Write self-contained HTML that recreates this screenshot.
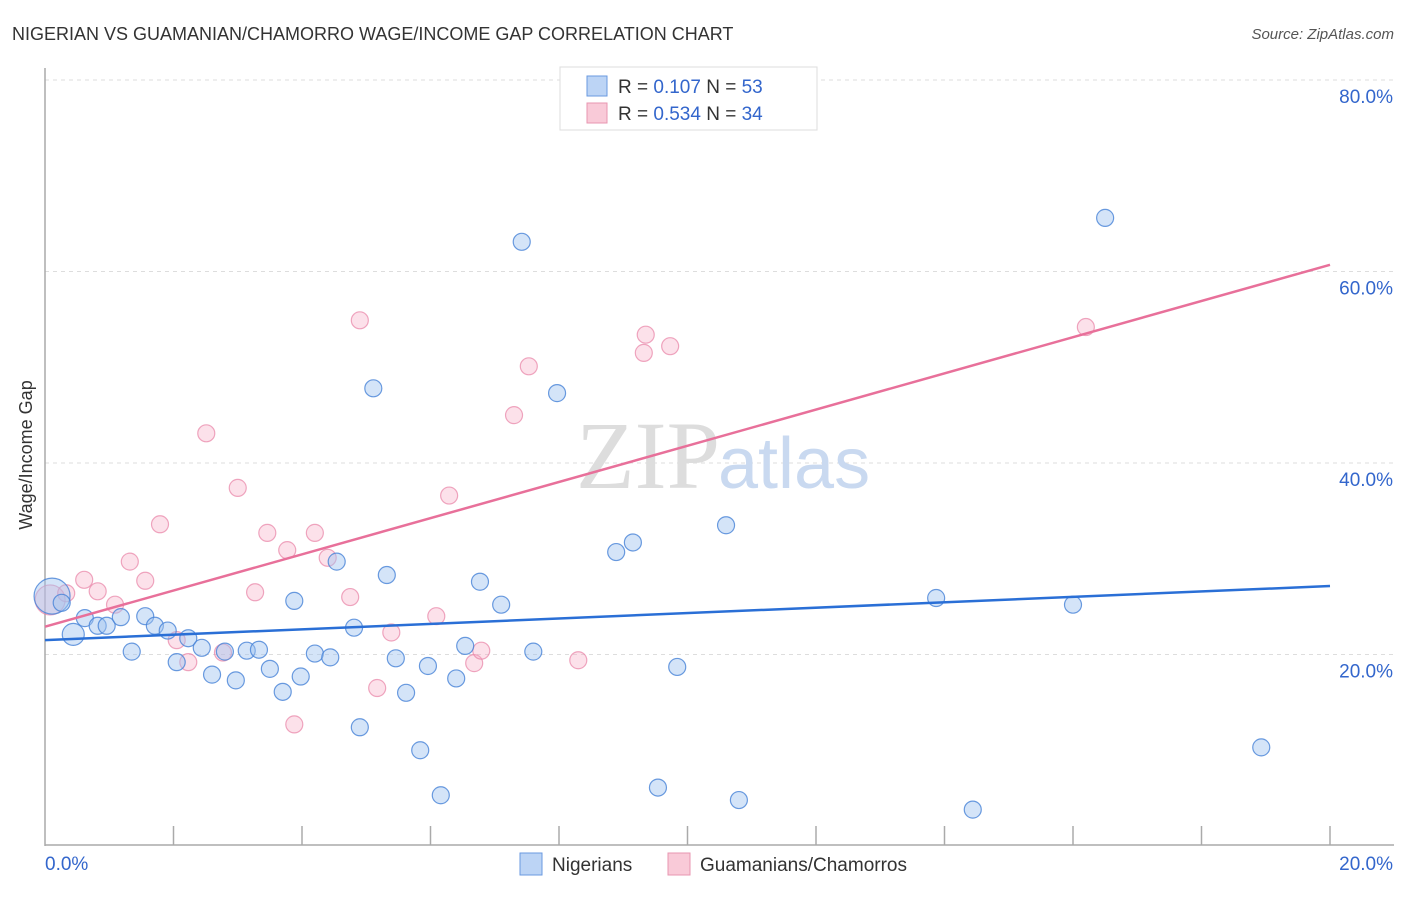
<!DOCTYPE html>
<html><head><meta charset="utf-8"><style>
body{margin:0;background:#fff;font-family:"Liberation Sans",sans-serif}
svg text{font-family:"Liberation Sans",sans-serif}
</style></head><body>
<svg width="1406" height="892" xmlns="http://www.w3.org/2000/svg">
<text x="12" y="40" font-size="18" fill="#333">NIGERIAN VS GUAMANIAN/CHAMORRO WAGE/INCOME GAP CORRELATION CHART</text>
<text x="1394" y="39" font-size="15" fill="#555" text-anchor="end" font-style="italic">Source: ZipAtlas.com</text>
<g id="grid"></g>
<g id="axes"></g>
<text x="720" y="488" font-size="96" fill="#ddd" text-anchor="end" font-family="Liberation Serif" style="font-family:'Liberation Serif',serif">ZIP</text>
<text x="718" y="488" font-size="72" fill="#c9d9f0">atlas</text>
<g id="pts"></g>
<g id="lines"></g>
<text x="32" y="455" font-size="18" fill="#333" text-anchor="middle" transform="rotate(-90 32 455)">Wage/Income Gap</text>
<g>
<rect x="560" y="67" width="257" height="63" fill="#fff" stroke="#ddd"/>
<rect x="587" y="76" width="20" height="20" fill="#bcd4f5" stroke="#6a9ae0"/>
<rect x="587" y="103" width="20" height="20" fill="#f9cad8" stroke="#e896b0"/>
<text x="618" y="93" font-size="19" fill="#333">R = <tspan fill="#3366cc">0.107</tspan>   N = <tspan fill="#3366cc">53</tspan></text>
<text x="618" y="120" font-size="19" fill="#333">R = <tspan fill="#3366cc">0.534</tspan>   N = <tspan fill="#3366cc">34</tspan></text>
</g>
<g>
<rect x="520" y="853" width="22" height="22" fill="#bcd4f5" stroke="#6a9ae0"/>
<text x="552" y="871" font-size="19" fill="#333">Nigerians</text>
<rect x="668" y="853" width="22" height="22" fill="#f9cad8" stroke="#e896b0"/>
<text x="700" y="871" font-size="19" fill="#333">Guamanians/Chamorros</text>
</g>
</svg>
<script>
const yTicks=[20,40,60,80];
const yTickLabels=["20.0%","40.0%","60.0%","80.0%"];
const xTicks=[0,2,4,6,8,10,12,14,16,18,20];
const nigX=[0.11,0.26,0.44,0.62,0.82,0.96,1.18,1.35,1.56,1.71,1.91,2.05,2.23,2.44,2.60,2.80,2.97,3.14,3.33,3.50,3.70,3.88,3.98,4.20,4.44,4.54,4.81,4.90,5.11,5.32,5.46,5.62,5.84,5.96,6.16,6.40,6.54,6.77,7.10,7.42,7.60,7.97,8.89,9.15,9.54,9.84,10.60,10.80,13.87,14.44,16.00,16.50,18.93];
const nigY=[26.1,25.4,22.1,23.8,23.0,23.0,23.9,20.3,24.0,23.0,22.5,19.2,21.7,20.7,17.9,20.3,17.3,20.4,20.5,18.5,16.1,25.6,17.7,20.1,19.7,29.7,22.8,12.4,47.8,28.3,19.6,16.0,10.0,18.8,5.3,17.5,20.9,27.6,25.2,63.1,20.3,47.3,30.7,31.7,6.1,18.7,33.5,4.8,25.9,3.8,25.2,65.6,10.3];
const guaX=[0.08,0.33,0.61,0.82,1.09,1.32,1.56,1.79,2.05,2.23,2.51,2.77,3.00,3.27,3.46,3.77,3.88,4.20,4.40,4.75,4.90,5.17,5.39,6.09,6.29,6.68,6.79,7.30,7.53,8.30,9.32,9.35,9.73,16.20];
const guaY=[25.7,26.4,27.8,26.6,25.2,29.7,27.7,33.6,21.5,19.2,43.1,20.2,37.4,26.5,32.7,30.9,12.7,32.7,30.1,26.0,54.9,16.5,22.3,24.0,36.6,19.1,20.4,45.0,50.1,19.4,51.5,53.4,52.2,54.2];
const nigTrend=[21.5,27.15];
const guaTrend=[22.9,60.7];
const NS="http://www.w3.org/2000/svg";
const sx=v=>45+v/20*1285;
const sy=v=>846-v/20*191.5;
function mk(tag,attrs,parent){const e=document.createElementNS(NS,tag);for(const k in attrs)e.setAttribute(k,attrs[k]);document.getElementById(parent).appendChild(e);return e;}
yTicks.forEach((t,i)=>{
 const l=mk('line',{x1:45,x2:1394,y1:sy(t),y2:sy(t),stroke:'#ddd','stroke-dasharray':'4,4'},'grid');
 
 
 const tx=mk('text',{x:1393,y:sy(t)+23,'font-size':19,fill:'#3366cc','text-anchor':'end'},'grid');
 tx.textContent=yTickLabels[i];
 
 
});
mk('line',{x1:45,x2:45,y1:68,y2:846,stroke:'#aaa','stroke-width':1.5},'axes');
mk('line',{x1:45,x2:1394,y1:845,y2:845,stroke:'#aaa','stroke-width':1.5},'axes');
xTicks.forEach(t=>{if(t>0){const l=mk('line',{x1:sx(t),x2:sx(t),y1:826,y2:845,stroke:'#aaa','stroke-width':1.5},'axes');
 
 }});
const x0=mk('text',{x:45,y:870,'font-size':19,fill:'#3366cc'},'axes');x0.textContent='0.0%';


const x1=mk('text',{x:1393,y:870,'font-size':19,fill:'#3366cc','text-anchor':'end'},'axes');x1.textContent='20.0%';


guaX.forEach((x,i)=>{const c=mk('circle',{cx:sx(x),cy:sy(guaY[i]),r:i==0?15:8.5,fill:'rgba(246,170,195,0.35)',stroke:'rgba(232,130,165,0.7)','stroke-width':1.2},'pts');
 
 });
nigX.forEach((x,i)=>{const c=mk('circle',{cx:sx(x),cy:sy(nigY[i]),r:i==0?18:(i==2?11:8.5),fill:'rgba(160,195,240,0.45)',stroke:'rgba(70,130,215,0.8)','stroke-width':1.2},'pts');
 
 });
const bl=mk('line',{x1:sx(0),y1:sy(nigTrend[0]),x2:sx(20),y2:sy(nigTrend[1]),stroke:'#2a6fd6','stroke-width':2.5},'lines');


const pl=mk('line',{x1:sx(0),y1:sy(guaTrend[0]),x2:sx(20),y2:sy(guaTrend[1]),stroke:'#e8709a','stroke-width':2.5},'lines');


</script>
</body></html>
